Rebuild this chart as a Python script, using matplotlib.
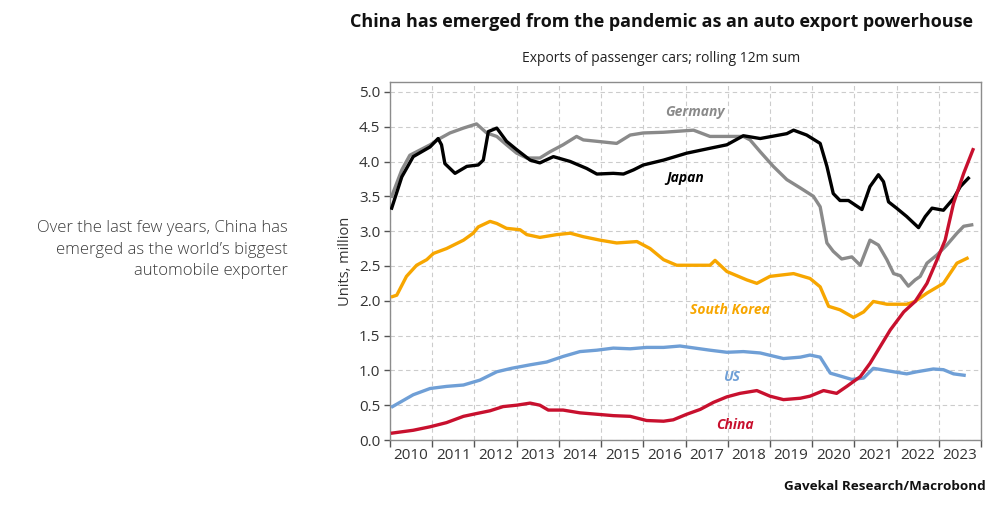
#!/usr/bin/env python3
# Exports of passenger cars, rolling 12m sum (Gavekal chart remake)
import matplotlib
matplotlib.use("Agg")
import matplotlib.pyplot as plt
from matplotlib.ticker import MultipleLocator, FixedLocator, NullFormatter

plt.rcParams["font.family"] = ["Open Sans", "DejaVu Sans"]

# ──────────────────────────────────────────────
# Data (decimal year, million units)
# ──────────────────────────────────────────────
germany_t = [2010.04, 2010.28, 2010.47, 2010.95, 2011.18, 2011.42, 2011.74, 2012.05, 2012.29,
             2012.53, 2012.76, 2013.0, 2013.24, 2013.55, 2013.79, 2014.1, 2014.42, 2014.58,
             2014.9, 2015.37, 2015.69, 2016.0, 2016.48, 2017.19, 2017.58, 2018.37, 2018.53,
             2018.77, 2019.08, 2019.4, 2019.72, 2020.03, 2020.19, 2020.35, 2020.5, 2020.7,
             2020.94, 2021.14, 2021.37, 2021.57, 2021.77, 2021.93, 2022.09, 2022.28, 2022.44,
             2022.56, 2022.72, 2022.96, 2023.19, 2023.43, 2023.59, 2023.78]
germany_v = [3.50, 3.88, 4.09, 4.24, 4.33, 4.41, 4.48, 4.54, 4.41,
             4.36, 4.24, 4.12, 4.05, 4.05, 4.14, 4.24, 4.36, 4.31,
             4.29, 4.26, 4.38, 4.41, 4.42, 4.45, 4.36, 4.36, 4.31,
             4.14, 3.93, 3.74, 3.62, 3.50, 3.35, 2.83, 2.71, 2.60,
             2.63, 2.51, 2.87, 2.80, 2.59, 2.39, 2.36, 2.21, 2.30,
             2.35, 2.54, 2.66, 2.80, 2.97, 3.07, 3.09]

japan_t = [2010.04, 2010.28, 2010.55, 2010.95, 2011.14, 2011.22, 2011.30, 2011.54, 2011.82,
           2012.09, 2012.21, 2012.33, 2012.53, 2012.76, 2013.0, 2013.32, 2013.55, 2013.87,
           2014.27, 2014.66, 2014.9, 2015.29, 2015.53, 2015.77, 2016.0, 2016.48, 2017.03,
           2017.58, 2017.98, 2018.37, 2018.77, 2019.4, 2019.56, 2019.87, 2020.19, 2020.35,
           2020.5, 2020.66, 2020.86, 2021.18, 2021.37, 2021.57, 2021.69, 2021.81, 2022.0,
           2022.24, 2022.52, 2022.68, 2022.84, 2023.11, 2023.35, 2023.51, 2023.70]
japan_v = [3.33, 3.78, 4.07, 4.21, 4.33, 4.24, 3.97, 3.83, 3.93,
           3.95, 4.02, 4.43, 4.48, 4.29, 4.17, 4.02, 3.98, 4.07,
           4.00, 3.90, 3.82, 3.83, 3.82, 3.88, 3.95, 4.02, 4.12,
           4.19, 4.24, 4.37, 4.33, 4.40, 4.45, 4.38, 4.26, 3.93,
           3.54, 3.44, 3.44, 3.31, 3.64, 3.81, 3.71, 3.42, 3.33,
           3.21, 3.05, 3.21, 3.33, 3.30, 3.47, 3.64, 3.76]

korea_t = [2010.06, 2010.16, 2010.39, 2010.63, 2010.87, 2011.03, 2011.34, 2011.74, 2011.97,
           2012.09, 2012.37, 2012.53, 2012.76, 2013.08, 2013.24, 2013.55, 2013.95, 2014.27,
           2014.58, 2014.98, 2015.37, 2015.85, 2016.16, 2016.48, 2016.79, 2017.58, 2017.70,
           2017.98, 2018.45, 2018.69, 2019.0, 2019.56, 2019.95, 2020.19, 2020.39, 2020.66,
           2020.98, 2021.22, 2021.45, 2021.77, 2022.24, 2022.44, 2022.72, 2023.11, 2023.43,
           2023.67]
korea_v = [2.06, 2.08, 2.35, 2.51, 2.59, 2.68, 2.75, 2.87, 2.97,
           3.06, 3.14, 3.11, 3.04, 3.02, 2.95, 2.91, 2.95, 2.97,
           2.92, 2.87, 2.83, 2.85, 2.75, 2.59, 2.51, 2.51, 2.58,
           2.42, 2.30, 2.25, 2.35, 2.39, 2.32, 2.20, 1.92, 1.87,
           1.76, 1.84, 1.99, 1.95, 1.95, 1.99, 2.11, 2.25, 2.54,
           2.61]

us_t = [2010.06, 2010.55, 2010.95, 2011.34, 2011.74, 2012.13, 2012.53, 2012.88, 2013.32,
        2013.71, 2014.1, 2014.5, 2014.9, 2015.29, 2015.69, 2016.08, 2016.48, 2016.87,
        2017.58, 2017.98, 2018.37, 2018.77, 2019.32, 2019.72, 2019.95, 2020.19, 2020.43,
        2020.66, 2020.94, 2021.22, 2021.45, 2021.93, 2022.24, 2022.48, 2022.87, 2023.11,
        2023.35, 2023.60]
us_v = [0.48, 0.65, 0.74, 0.77, 0.79, 0.86, 0.98, 1.03, 1.08,
        1.12, 1.20, 1.27, 1.29, 1.32, 1.31, 1.33, 1.33, 1.35,
        1.29, 1.26, 1.27, 1.25, 1.17, 1.19, 1.22, 1.19, 0.96,
        0.92, 0.87, 0.89, 1.03, 0.98, 0.95, 0.98, 1.02, 1.01,
        0.95, 0.93]

china_t = [2010.06, 2010.55, 2010.95, 2011.34, 2011.74, 2012.05, 2012.37, 2012.68, 2013.0,
           2013.32, 2013.55, 2013.75, 2014.1, 2014.5, 2014.9, 2015.29, 2015.69, 2016.08,
           2016.48, 2016.71, 2017.03, 2017.35, 2017.66, 2017.98, 2018.29, 2018.69, 2019.0,
           2019.32, 2019.72, 2019.95, 2020.27, 2020.58, 2020.82, 2021.14, 2021.37, 2021.61,
           2021.85, 2022.17, 2022.44, 2022.72, 2022.96, 2023.15, 2023.35, 2023.59, 2023.81]
china_v = [0.10, 0.14, 0.19, 0.25, 0.34, 0.38, 0.42, 0.48, 0.50,
           0.53, 0.50, 0.43, 0.43, 0.39, 0.37, 0.35, 0.34, 0.28,
           0.27, 0.29, 0.37, 0.44, 0.54, 0.62, 0.67, 0.71, 0.63,
           0.58, 0.60, 0.63, 0.71, 0.67, 0.77, 0.91, 1.10, 1.34,
           1.58, 1.84, 1.99, 2.25, 2.59, 2.87, 3.40, 3.83, 4.17]

years = list(range(2010, 2024))

series = [
    ("Germany",     germany_t, germany_v, "#8a8a8a", (2017.23, 4.71)),
    ("Japan",       japan_t,   japan_v,   "#000000", (2016.99, 3.76)),
    ("South Korea", korea_t,   korea_v,   "#f7a600", (2018.06, 1.87)),
    ("US",          us_t,      us_v,      "#6f9fd6", (2018.10, 0.91)),
    ("China",       china_t,   china_v,   "#c8102e", (2018.18, 0.22)),
]

# ──────────────────────────────────────────────
# Figure
# ──────────────────────────────────────────────
fig = plt.figure(figsize=(10, 5.12), dpi=100)
ax = fig.add_axes([0.39, 0.1406, 0.591, 0.699])

for name, t, v, col, (lx, ly) in series:
    ax.plot(t, v, color=col, lw=2.4, solid_joinstyle="round", zorder=3)
    ax.text(lx, ly, name, color=col, fontsize=10, fontweight="bold",
            fontstyle="italic", ha="center", va="center")

ax.set_xlim(2010, 2024)
ax.set_ylim(0, 5.14)
ax.yaxis.set_major_locator(MultipleLocator(0.5))
ax.yaxis.set_major_formatter(plt.FuncFormatter(lambda y, _: f"{y:.1f}"))
ax.xaxis.set_major_locator(FixedLocator(list(range(2010, 2025))))
ax.xaxis.set_major_formatter(NullFormatter())
ax.xaxis.set_minor_locator(FixedLocator([y + 0.5 for y in years]))
ax.set_xticklabels([str(y) for y in years], minor=True)

ax.tick_params(axis="x", which="major", length=5, width=1, color="#555555", direction="out")
ax.tick_params(axis="x", which="minor", length=0, pad=6, labelsize=11, labelcolor="#333333")
ax.tick_params(axis="y", length=4, width=1, color="#555555", labelsize=11,
               labelcolor="#333333", pad=3)

ax.grid(True, which="major", color="#cccccc", ls=(0, (4, 3)), lw=0.8, zorder=0)
for s in ax.spines.values():
    s.set_color("#8c8c8c")
    s.set_linewidth(1.0)

ax.set_ylabel("Units, million", fontsize=10.5, color="#333333", labelpad=4)

fig.text(0.6615, 0.957, "China has emerged from the pandemic as an auto export powerhouse",
         ha="center", va="center", fontsize=13, fontweight="bold", color="#111111")
fig.text(0.661, 0.886, "Exports of passenger cars; rolling 12m sum",
         ha="center", va="center", fontsize=10, color="#222222")
fig.text(0.288, 0.512, "Over the last few years, China has\nemerged as the world\u2019s biggest\nautomobile exporter",
         ha="right", va="center", fontsize=12, color="#3c3c3c", fontweight="light",
         linespacing=1.45)
fig.text(0.986, 0.049, "Gavekal Research/Macrobond", ha="right", va="center",
         fontsize=9.7, fontweight="bold", color="#111111")

fig.savefig("out.png", dpi=100)
